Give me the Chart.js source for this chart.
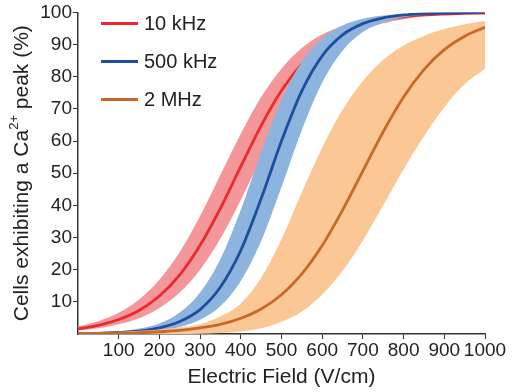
<!DOCTYPE html>
<html>
<head>
<meta charset="utf-8">
<script src="https://cdn.jsdelivr.net/npm/chart.js@4.4.1/dist/chart.umd.min.js"></script>
<style>
  html, body { margin: 0; padding: 0; background: #fff; }
  #chart-wrap { width: 512px; height: 392px; }
</style>
</head>
<body>
<div id="chart-wrap"><canvas id="chart" width="512" height="392"></canvas></div>
<script>
// electric field (V/cm), % of cells with a Ca2+ peak
const fieldVcm = [0, 50, 100, 150, 200, 250, 300, 350, 400, 450, 500,
                  550, 600, 650, 700, 750, 800, 850, 900, 950, 1000];

const khz10 = [1.6, 2.7, 4.5, 7.3, 11.8, 18.4, 27.6, 39.1, 52.1, 64.8, 75.7,
               84.0, 89.9, 93.8, 96.2, 97.7, 98.6, 99.2, 99.5, 99.7, 99.8];
const khz10Low = [1.1, 1.8, 3.0, 4.9, 8.1, 12.9, 20.0, 29.7, 41.7, 54.7, 67.1,
                  77.5, 85.4, 90.8, 94.3, 96.6, 97.9, 98.8, 99.3, 99.6, 99.7];
const khz10High = [2.4, 4.0, 6.6, 10.7, 16.9, 25.5, 36.7, 49.5, 62.3, 73.7, 82.5,
                   88.9, 93.1, 95.8, 97.5, 98.5, 99.1, 99.5, 99.7, 99.8, 99.9];

const khz500 = [0.1, 0.2, 0.5, 0.9, 1.9, 3.9, 7.6, 14.6, 26.0, 42.1, 60.0,
                75.6, 86.5, 93.0, 96.5, 98.3, 99.2, 99.6, 99.8, 99.9, 100];
const khz500Low = [0.1, 0.1, 0.3, 0.5, 1.1, 2.2, 4.4, 8.7, 16.5, 28.9, 45.7,
                   63.4, 78.2, 88.1, 93.9, 96.9, 98.5, 99.3, 99.6, 99.8, 99.9];
const khz500High = [0.2, 0.4, 0.8, 1.7, 3.3, 6.7, 12.9, 23.3, 38.6, 56.5, 72.8,
                    84.7, 92.0, 95.9, 98.0, 99.0, 99.5, 99.8, 99.9, 100, 100];

const mhz2 = [0.1, 0.2, 0.3, 0.4, 0.7, 1.1, 1.9, 3.0, 4.9, 7.8, 12.2,
              18.7, 27.5, 38.5, 50.7, 62.9, 73.7, 82.2, 88.4, 92.6, 95.4];
const mhz2Low = [0, 0, 0, 0, 0, 0, 0.1, 0.3, 0.8, 1.8, 3.8,
                 7.0, 12.3, 19.6, 29.1, 40.0, 51.2, 61.5, 70.5, 77.7, 82.5];
const mhz2High = [0.3, 0.5, 0.7, 1.0, 1.4, 2.0, 3.0, 5.5, 9.5, 17.5, 29.5,
                  44.1, 57.9, 69.7, 78.7, 85.2, 89.7, 92.7, 94.8, 96.3, 97.3];

const seriesLabels = ['10 kHz', '500 kHz', '2 MHz'];
const xTicks = [100, 200, 300, 400, 500, 600, 700, 800, 900, 1000];
const yTicks = [10, 20, 30, 40, 50, 60, 70, 80, 90, 100];

const FONT = "'Liberation Sans', Arial, Helvetica, sans-serif";
const TEXT = '#222';

function pts(ys) {
  return fieldVcm.map((x, i) => ({x: x, y: ys[i]}));
}

// lower edge (invisible), upper edge filled down to it, then the mean curve
function group(label, mean, low, high, lineColor, bandColor, order) {
  return [
    {label: label + ' low', data: pts(low), borderWidth: 0, pointRadius: 0,
     fill: false, order: order + 2, cubicInterpolationMode: 'monotone'},
    {label: label + ' high', data: pts(high), borderWidth: 0, pointRadius: 0,
     backgroundColor: bandColor, fill: '-1', order: order + 1,
     cubicInterpolationMode: 'monotone'},
    {label: label, data: pts(mean), borderColor: lineColor, borderWidth: 2.8,
     pointRadius: 0, fill: false, order: order, isMain: true,
     cubicInterpolationMode: 'monotone'},
  ];
}

const datasets = [].concat(
  group(seriesLabels[0], khz10, khz10Low, khz10High, '#ec2a2c', '#f3979a', 30),
  group(seriesLabels[1], khz500, khz500Low, khz500High, '#1f4e9e', '#8db4df', 20),
  group(seriesLabels[2], mhz2, mhz2Low, mhz2High, '#c8682b', '#fbc795', 10)
);

// legend drawn inside the plot, top-left, short line + label
const insideLegend = {
  id: 'insideLegend',
  afterDraw(chart) {
    const ctx = chart.ctx;
    const a = chart.chartArea;
    const mains = chart.data.datasets.filter(d => d.isMain);
    ctx.save();
    ctx.font = '20px ' + FONT;
    ctx.textBaseline = 'middle';
    ctx.fillStyle = TEXT;
    mains.forEach((d, i) => {
      const y = a.top + 11 + i * 38;
      ctx.strokeStyle = d.borderColor;
      ctx.lineWidth = 3;
      ctx.beginPath();
      ctx.moveTo(a.left + 23, y);
      ctx.lineTo(a.left + 60, y);
      ctx.stroke();
      ctx.fillText(d.label, a.left + 66, y + 1);
    });
    ctx.restore();
  }
};

// y title with a superscript on Ca
const yTitle = {
  id: 'yTitle',
  afterDraw(chart) {
    const ctx = chart.ctx;
    const a = chart.chartArea;
    const parts = [['Cells exhibiting a Ca', 21, 0], ['2+', 13, -8], [' peak (%)', 21, 0]];
    ctx.save();
    ctx.translate(22, (a.top + a.bottom) / 2);
    ctx.rotate(-Math.PI / 2);
    ctx.textBaseline = 'middle';
    ctx.fillStyle = TEXT;
    let total = 0;
    for (const p of parts) {
      ctx.font = p[1] + 'px ' + FONT;
      total += ctx.measureText(p[0]).width;
    }
    let x = -total / 2;
    for (const p of parts) {
      ctx.font = p[1] + 'px ' + FONT;
      ctx.fillText(p[0], x, p[2]);
      x += ctx.measureText(p[0]).width;
    }
    ctx.restore();
  }
};

const config = {
  type: 'line',
  data: {datasets},
  plugins: [insideLegend, yTitle],
  options: {
    animation: false,
    responsive: false,
    devicePixelRatio: 1,
    layout: {padding: {top: 12, right: 27, left: 0, bottom: 0}},
    plugins: {legend: {display: false}, tooltip: {enabled: false}},
    elements: {line: {tension: 0.4}},
    scales: {
      x: {
        type: 'linear', min: 0, max: 1000, z: 1,
        afterFit: (s) => { s.height = 58; },
        afterBuildTicks: (s) => { s.ticks = xTicks.map(v => ({value: v})); },
        ticks: {
          autoSkip: false, maxRotation: 0, padding: 0, color: TEXT,
          font: {family: FONT, size: 19},
          callback: (v) => String(v),
        },
        grid: {drawOnChartArea: false, drawTicks: true, tickLength: 5, color: '#333'},
        border: {display: true, color: '#333', width: 1.5},
        title: {display: true, text: 'Electric Field (V/cm)', color: TEXT,
                font: {family: FONT, size: 21}, padding: {top: 0, bottom: 2}},
      },
      y: {
        min: 0, max: 100, z: 1,
        afterFit: (s) => { s.width = 78; },
        afterBuildTicks: (s) => { s.ticks = yTicks.map(v => ({value: v})); },
        ticks: {
          padding: 1, color: TEXT, font: {family: FONT, size: 19},
          callback: (v) => String(v),
        },
        grid: {drawOnChartArea: false, drawTicks: true, tickLength: 5, color: '#333'},
        border: {display: true, color: '#333', width: 1.5},
      }
    }
  }
};

new Chart(document.getElementById('chart'), config);
</script>
</body>
</html>
